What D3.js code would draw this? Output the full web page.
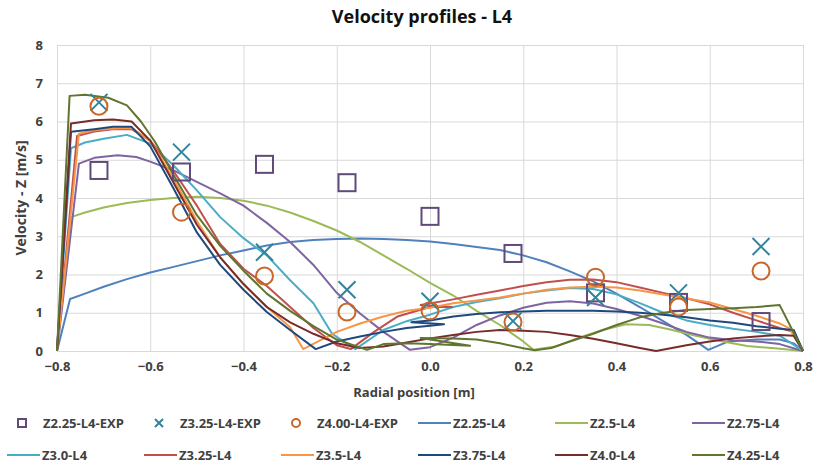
<!DOCTYPE html>
<html>
<head>
<meta charset="utf-8">
<script src="https://cdn.jsdelivr.net/npm/d3@7"></script>
<style>
  body { margin: 0; background: #fff; }
  text { font-family: "Open Sans", "DejaVu Sans", sans-serif; fill: #404040; font-weight: bold; }
</style>
</head>
<body>
<div id="chart"></div>
<script>

// chart values
var xTicks = [-0.8, -0.6, -0.4, -0.2, 0.0, 0.2, 0.4, 0.6, 0.8];
var yTicks = [0, 1, 2, 3, 4, 5, 6, 7, 8];

// experimental positions and values
var expX = [-0.71, -0.533, -0.355, -0.178, 0.0, 0.178, 0.355, 0.533, 0.71];
var expZ225 = [4.72, 4.68, 4.88, 4.4, 3.52, 2.55, 1.52, 1.27, 0.77];
var expZ325 = [6.5, 5.2, 2.58, 1.6, 1.3, 0.78, 1.4, 1.52, 2.73];
var expZ400 = [6.4, 3.63, 1.96, 1.02, 1.05, 0.76, 1.93, 1.15, 2.09];

// CFD profiles [radial position, velocity]
var z225 = [[-0.8,0],[-0.772,1.36],[-0.74,1.5],[-0.7,1.68],[-0.65,1.88],[-0.6,2.05],[-0.55,2.2],[-0.5,2.35],[-0.45,2.5],[-0.4,2.63],[-0.35,2.76],[-0.3,2.85],[-0.25,2.9],[-0.2,2.93],[-0.15,2.94],[-0.1,2.93],[-0.05,2.9],[0,2.86],[0.05,2.8],[0.1,2.72],[0.15,2.64],[0.2,2.5],[0.25,2.32],[0.3,2.08],[0.35,1.82],[0.4,1.5],[0.45,1.15],[0.5,0.78],[0.55,0.42],[0.597,0.03],[0.64,0.25],[0.7,0.3],[0.75,0.3],[0.78,0.2],[0.8,0]];
var z250 = [[-0.8,0],[-0.77,3.5],[-0.74,3.62],[-0.7,3.75],[-0.65,3.87],[-0.6,3.95],[-0.55,4.0],[-0.5,4.03],[-0.45,4.0],[-0.4,3.93],[-0.35,3.8],[-0.3,3.62],[-0.25,3.4],[-0.2,3.15],[-0.15,2.85],[-0.1,2.5],[-0.05,2.15],[0,1.78],[0.05,1.45],[0.1,1.05],[0.15,0.68],[0.2,0.25],[0.222,0.03],[0.27,0.12],[0.32,0.35],[0.37,0.55],[0.42,0.7],[0.47,0.68],[0.52,0.55],[0.57,0.4],[0.62,0.27],[0.68,0.13],[0.74,0.07],[0.8,0]];
var z275 = [[-0.8,0],[-0.753,4.9],[-0.72,5.05],[-0.67,5.12],[-0.63,5.07],[-0.6,4.95],[-0.55,4.72],[-0.5,4.42],[-0.45,4.12],[-0.4,3.8],[-0.35,3.35],[-0.3,2.85],[-0.25,2.25],[-0.2,1.52],[-0.15,0.98],[-0.1,0.5],[-0.043,0.03],[0,0.1],[0.05,0.35],[0.1,0.68],[0.15,0.93],[0.2,1.13],[0.25,1.26],[0.3,1.3],[0.35,1.24],[0.4,1.1],[0.45,0.92],[0.5,0.72],[0.55,0.5],[0.6,0.35],[0.65,0.28],[0.7,0.25],[0.75,0.18],[0.8,0]];
var z300 = [[-0.8,0],[-0.77,5.3],[-0.74,5.45],[-0.7,5.55],[-0.65,5.65],[-0.6,5.42],[-0.55,4.85],[-0.5,4.2],[-0.45,3.5],[-0.4,2.95],[-0.35,2.5],[-0.3,1.85],[-0.25,1.25],[-0.21,0.45],[-0.16,0.05],[-0.1,0.55],[-0.05,0.78],[0,0.95],[0.05,1.15],[0.1,1.28],[0.15,1.38],[0.2,1.5],[0.25,1.58],[0.3,1.65],[0.35,1.62],[0.4,1.48],[0.45,1.25],[0.5,1.0],[0.55,0.8],[0.6,0.68],[0.65,0.58],[0.7,0.5],[0.75,0.4],[0.8,0]];
var z325 = [[-0.8,0],[-0.757,5.62],[-0.72,5.74],[-0.68,5.8],[-0.64,5.8],[-0.6,5.5],[-0.55,4.7],[-0.5,3.8],[-0.45,2.8],[-0.4,2.15],[-0.35,1.7],[-0.3,1.15],[-0.25,0.6],[-0.2,0.15],[-0.17,0.05],[-0.12,0.5],[-0.07,0.9],[0,1.15],[0.047,1.15],[-0.02,1.2],[0.05,1.35],[0.1,1.47],[0.15,1.58],[0.2,1.7],[0.25,1.8],[0.3,1.86],[0.35,1.87],[0.4,1.8],[0.45,1.66],[0.5,1.52],[0.55,1.38],[0.6,1.22],[0.65,1.0],[0.7,0.8],[0.75,0.6],[0.78,0.5],[0.8,0]];
var z350 = [[-0.8,0],[-0.753,5.68],[-0.72,5.77],[-0.68,5.82],[-0.64,5.83],[-0.6,5.5],[-0.55,4.5],[-0.5,3.4],[-0.45,2.45],[-0.4,1.75],[-0.35,1.15],[-0.3,0.62],[-0.272,0.05],[-0.24,0.25],[-0.2,0.5],[-0.15,0.72],[-0.1,0.9],[-0.05,1.05],[0,1.13],[0.05,1.25],[0.1,1.32],[0.15,1.4],[0.2,1.5],[0.25,1.6],[0.3,1.66],[0.35,1.68],[0.4,1.66],[0.45,1.58],[0.5,1.48],[0.55,1.37],[0.6,1.27],[0.65,1.1],[0.7,0.92],[0.75,0.72],[0.77,0.6],[0.8,0]];
var z375 = [[-0.8,0],[-0.77,5.73],[-0.72,5.8],[-0.68,5.86],[-0.64,5.86],[-0.6,5.35],[-0.55,4.25],[-0.5,3.1],[-0.45,2.25],[-0.4,1.6],[-0.35,1.02],[-0.3,0.55],[-0.245,0.05],[-0.2,0.25],[-0.15,0.38],[-0.1,0.5],[-0.05,0.6],[0,0.66],[0.03,0.7],[-0.04,0.75],[0.0,0.8],[0.05,0.9],[0.1,0.97],[0.15,1.01],[0.2,1.03],[0.25,1.05],[0.3,1.05],[0.35,1.05],[0.4,1.03],[0.45,1.0],[0.5,0.95],[0.55,0.88],[0.6,0.8],[0.65,0.74],[0.7,0.65],[0.75,0.58],[0.78,0.55],[0.8,0]];
var z400 = [[-0.8,0],[-0.77,5.95],[-0.72,6.03],[-0.68,6.05],[-0.64,6.0],[-0.6,5.5],[-0.55,4.4],[-0.5,3.3],[-0.45,2.45],[-0.4,1.75],[-0.35,1.15],[-0.3,0.75],[-0.25,0.45],[-0.2,0.2],[-0.15,0.08],[-0.1,0.12],[-0.05,0.22],[0,0.33],[0.05,0.42],[0.1,0.5],[0.15,0.55],[0.2,0.53],[0.25,0.5],[0.3,0.42],[0.35,0.32],[0.4,0.2],[0.45,0.08],[0.485,0.0],[0.55,0.15],[0.6,0.25],[0.65,0.33],[0.7,0.38],[0.75,0.42],[0.78,0.4],[0.8,0]];
var z425 = [[-0.8,0],[-0.773,6.67],[-0.74,6.7],[-0.69,6.62],[-0.65,6.42],[-0.62,6.0],[-0.59,5.47],[-0.55,4.6],[-0.5,3.55],[-0.45,2.75],[-0.4,2.1],[-0.35,1.5],[-0.3,1.05],[-0.25,0.65],[-0.2,0.3],[-0.135,0.03],[-0.1,0.18],[-0.05,0.2],[0,0.18],[0.086,0.14],[-0.02,0.34],[0.05,0.33],[0.1,0.3],[0.15,0.2],[0.2,0.07],[0.225,0.02],[0.26,0.08],[0.3,0.25],[0.35,0.45],[0.4,0.68],[0.45,0.88],[0.5,1.0],[0.55,1.07],[0.6,1.1],[0.65,1.12],[0.7,1.15],[0.75,1.2],[0.8,0]];

var series = [
  { name: "Z2.25-L4", data: z225, color: "#4f81bd" },
  { name: "Z2.5-L4", data: z250, color: "#9bbb59" },
  { name: "Z2.75-L4", data: z275, color: "#8064a2" },
  { name: "Z3.0-L4", data: z300, color: "#4bacc6" },
  { name: "Z3.25-L4", data: z325, color: "#c0504d" },
  { name: "Z3.5-L4", data: z350, color: "#f79646" },
  { name: "Z3.75-L4", data: z375, color: "#1f497d" },
  { name: "Z4.0-L4", data: z400, color: "#772c2a" },
  { name: "Z4.25-L4", data: z425, color: "#5f7530" }
];
var expSeries = [
  { name: "Z2.25-L4-EXP", data: expZ225, color: "#604a7b", shape: "square" },
  { name: "Z3.25-L4-EXP", data: expZ325, color: "#31849b", shape: "cross" },
  { name: "Z4.00-L4-EXP", data: expZ400, color: "#c8672a", shape: "circle" }
];

var width = 813, height = 463;
var margin = { left: 57, right: 10, top: 45, bottom: 112 };
var plotW = width - margin.left - margin.right;
var plotH = height - margin.top - margin.bottom;

var svg = d3.select("#chart").append("svg")
  .attr("width", width)
  .attr("height", height);

var x = d3.scaleLinear().domain([-0.8, 0.8]).range([0, plotW]);
var y = d3.scaleLinear().domain([0, 8]).range([plotH, 0]);

var g = svg.append("g").attr("transform", "translate(" + margin.left + "," + margin.top + ")");

// grid
g.append("g")
  .call(d3.axisLeft(y).tickValues(yTicks).tickSize(-plotW).tickFormat(""))
  .call(function(s) { s.select(".domain").remove(); })
  .selectAll("line").attr("stroke", "#d9d9d9");
g.append("g")
  .attr("transform", "translate(0," + plotH + ")")
  .call(d3.axisBottom(x).tickValues(xTicks).tickSize(-plotH).tickFormat(""))
  .call(function(s) { s.select(".domain").remove(); })
  .selectAll("line").attr("stroke", "#d9d9d9");

// tick labels
g.append("g")
  .call(d3.axisLeft(y).tickValues(yTicks).tickSize(0).tickPadding(14).tickFormat(d3.format("d")))
  .call(function(s) { s.select(".domain").remove(); })
  .selectAll("text").style("font-size", "13px");
g.append("g")
  .attr("transform", "translate(0," + plotH + ")")
  .call(d3.axisBottom(x).tickValues(xTicks).tickSize(0).tickPadding(11).tickFormat(d3.format(".1f")))
  .call(function(s) { s.select(".domain").remove(); })
  .selectAll("text").style("font-size", "13px");

// lines
var line = d3.line()
  .x(function(d) { return x(d[0]); })
  .y(function(d) { return y(d[1]); });

g.selectAll(".cfd")
  .data(series)
  .enter()
  .append("path")
  .attr("class", "cfd")
  .attr("fill", "none")
  .attr("stroke", function(d) { return d.color; })
  .attr("stroke-width", 2)
  .attr("stroke-linejoin", "round")
  .attr("d", function(d) { return line(d.data); });

// markers
function drawMarker(sel, shape, color, size) {
  var h = size / 2;
  if (shape === "square") {
    sel.append("rect").attr("x", -h).attr("y", -h).attr("width", size).attr("height", size)
      .attr("fill", "none").attr("stroke", color).attr("stroke-width", 2);
  } else if (shape === "circle") {
    sel.append("circle").attr("r", h)
      .attr("fill", "none").attr("stroke", color).attr("stroke-width", 2);
  } else {
    sel.append("path").attr("d", "M" + (-h) + "," + (-h) + "L" + h + "," + h + "M" + (-h) + "," + h + "L" + h + "," + (-h))
      .attr("fill", "none").attr("stroke", color).attr("stroke-width", 2);
  }
}

expSeries.forEach(function(s) {
  s.data.forEach(function(v, i) {
    var m = g.append("g").attr("transform", "translate(" + x(expX[i]) + "," + y(v) + ")");
    drawMarker(m, s.shape, s.color, 17);
  });
});

// titles
svg.append("text")
  .attr("x", 422).attr("y", 23)
  .attr("text-anchor", "middle")
  .style("font-size", "18px")
  .style("fill", "#111")
  .text("Velocity profiles - L4");

svg.append("text")
  .attr("x", 414).attr("y", 397)
  .attr("text-anchor", "middle")
  .style("font-size", "13px")
  .text("Radial position [m]");

svg.append("text")
  .attr("transform", "translate(26,198) rotate(-90)")
  .attr("text-anchor", "middle")
  .style("font-size", "14px")
  .text("Velocity - Z [m/s]");

// legend
var legendItems = expSeries.concat(series);
var legend = svg.append("g");
legendItems.forEach(function(d, i) {
  var col = i % 6, row = Math.floor(i / 6);
  var lx = 7 + col * 137, ly = 423 + row * 32;
  var item = legend.append("g").attr("transform", "translate(" + lx + "," + ly + ")");
  if (d.shape) {
    var m = item.append("g").attr("transform", "translate(15,0)");
    drawMarker(m, d.shape, d.color, 8);
  } else {
    item.append("line").attr("x1", 0).attr("x2", 33).attr("y1", 0).attr("y2", 0)
      .attr("stroke", d.color).attr("stroke-width", 2);
  }
  item.append("text")
    .attr("x", d.shape ? 36 : 35)
    .attr("y", 0)
    .attr("dy", "0.35em")
    .style("font-size", "13px")
    .text(d.name);
});

</script>
</body>
</html>
